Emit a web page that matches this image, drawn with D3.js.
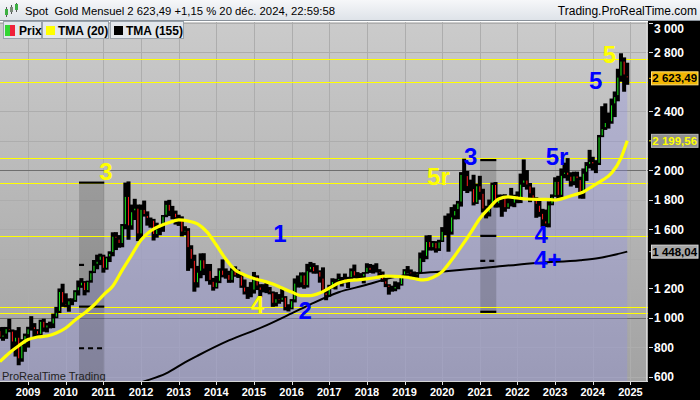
<!DOCTYPE html>
<html>
<head>
<meta charset="utf-8">
<script src="https://cdn.jsdelivr.net/npm/d3@7/dist/d3.min.js"></script>
<style>
  body { margin: 0; background: #fff; }
  svg { display: block; font-family: "Liberation Sans", Arial, sans-serif; }
</style>
</head>
<body>
<div id="chart"></div>
<script>
var w = 700;
var h = 400;

// monthly candles, first one = April 2008
var firstYear = 2008, firstMonth = 4;
var opens = [
  916, 864, 886, 929, 912, 832, 871, 718, 815,
  882, 928, 942, 916, 884, 979, 927, 954, 955, 1001, 1040, 1181,
  1097, 1081, 1118, 1113, 1180, 1213, 1244, 1181, 1248, 1308, 1359, 1386,
  1421, 1332, 1410, 1439, 1556, 1536, 1500, 1628, 1826, 1620, 1722, 1746,
  1565, 1738, 1697, 1669, 1664, 1561, 1604, 1622, 1692, 1772, 1719, 1712,
  1675, 1664, 1578, 1596, 1472, 1393, 1234, 1312, 1396, 1327, 1323, 1250,
  1202, 1244, 1326, 1284, 1296, 1250, 1327, 1282, 1287, 1211, 1171, 1182,
  1184, 1283, 1212, 1183, 1183, 1190, 1172, 1095, 1132, 1115, 1142, 1065,
  1061, 1118, 1238, 1233, 1293, 1215, 1322, 1351, 1309, 1316, 1272, 1173,
  1146, 1211, 1249, 1249, 1268, 1268, 1242, 1269, 1322, 1280, 1271, 1275,
  1303, 1345, 1318, 1325, 1315, 1299, 1253, 1224, 1202, 1192, 1215, 1222,
  1282, 1321, 1313, 1292, 1284, 1305, 1409, 1413, 1520, 1472, 1513, 1464,
  1517, 1589, 1585, 1577, 1687, 1730, 1781, 1975, 1967, 1886, 1879, 1776,
  1898, 1847, 1734, 1708, 1769, 1907, 1770, 1814, 1814, 1743, 1783, 1774,
  1829, 1796, 1909, 1937, 1897, 1837, 1807, 1766, 1711, 1660, 1633, 1768,
  1824, 1928, 1827, 1969, 1990, 1963, 1919, 1965, 1940, 1849, 1983, 2036,
  2063, 2040, 2044, 2230, 2286, 2327, 2326, 2447, 2503, 2635, 2744, 2643
];
var highs = [
  933, 934, 934, 989, 917, 912, 933, 851, 889,
  935, 1007, 960, 919, 983, 990, 961, 970, 1024, 1070, 1195, 1227,
  1162, 1128, 1128, 1183, 1249, 1265, 1245, 1248, 1315, 1388, 1424, 1431,
  1424, 1411, 1447, 1576, 1577, 1557, 1632, 1913, 1921, 1764, 1803, 1764,
  1764, 1791, 1718, 1676, 1667, 1641, 1625, 1693, 1790, 1796, 1755, 1723,
  1695, 1684, 1617, 1604, 1488, 1424, 1348, 1433, 1434, 1361, 1361, 1267,
  1280, 1332, 1392, 1331, 1315, 1332, 1345, 1323, 1292, 1256, 1206, 1238,
  1307, 1284, 1224, 1224, 1232, 1205, 1175, 1170, 1157, 1191, 1143, 1088,
  1123, 1263, 1283, 1304, 1304, 1362, 1375, 1367, 1353, 1318, 1338, 1181,
  1220, 1264, 1261, 1296, 1273, 1296, 1274, 1331, 1357, 1306, 1299, 1306,
  1366, 1361, 1356, 1366, 1326, 1310, 1266, 1224, 1214, 1243, 1237, 1284,
  1326, 1347, 1324, 1310, 1306, 1439, 1453, 1555, 1557, 1517, 1516, 1525,
  1611, 1689, 1704, 1747, 1765, 1789, 1984, 2075, 1992, 1933, 1966, 1906,
  1959, 1871, 1756, 1798, 1913, 1917, 1832, 1832, 1834, 1814, 1877, 1831,
  1853, 1974, 2070, 1998, 1910, 1880, 1814, 1808, 1735, 1730, 1786, 1833,
  1949, 1959, 2009, 2048, 2079, 1983, 1987, 1987, 1953, 2009, 2052, 2135,
  2088, 2065, 2236, 2431, 2450, 2388, 2483, 2531, 2685, 2790, 2762, 2726
];
var lows = [
  861, 847, 860, 905, 786, 740, 681, 705, 772,
  801, 916, 866, 865, 880, 908, 904, 931, 933, 1000, 1035, 1077,
  1074, 1044, 1088, 1111, 1154, 1206, 1155, 1175, 1241, 1306, 1332, 1360,
  1309, 1329, 1381, 1420, 1462, 1478, 1481, 1603, 1532, 1600, 1666, 1523,
  1538, 1689, 1628, 1614, 1527, 1546, 1563, 1586, 1685, 1693, 1671, 1635,
  1626, 1555, 1563, 1321, 1338, 1180, 1208, 1271, 1292, 1251, 1227, 1187,
  1201, 1238, 1277, 1268, 1240, 1241, 1281, 1273, 1206, 1161, 1131, 1142,
  1167, 1191, 1142, 1175, 1170, 1162, 1077, 1080, 1098, 1111, 1053, 1046,
  1060, 1107, 1208, 1209, 1200, 1208, 1311, 1302, 1302, 1241, 1171, 1122,
  1146, 1201, 1195, 1244, 1215, 1237, 1205, 1266, 1271, 1260, 1264, 1236,
  1302, 1307, 1303, 1310, 1282, 1246, 1211, 1160, 1180, 1183, 1196, 1221,
  1276, 1302, 1281, 1266, 1267, 1301, 1381, 1400, 1459, 1459, 1445, 1456,
  1517, 1563, 1451, 1567, 1670, 1671, 1757, 1863, 1849, 1860, 1765, 1775,
  1803, 1717, 1677, 1690, 1766, 1750, 1751, 1688, 1722, 1742, 1758, 1753,
  1780, 1781, 1890, 1872, 1787, 1805, 1681, 1688, 1615, 1618, 1616, 1766,
  1823, 1804, 1810, 1949, 1932, 1893, 1902, 1884, 1811, 1810, 1931, 2016,
  2002, 1984, 2039, 2228, 2277, 2286, 2319, 2364, 2471, 2604, 2536, 2583
];
var closes = [
  864, 886, 929, 912, 832, 871, 718, 815, 882,
  928, 942, 916, 884, 979, 927, 954, 955, 1001, 1040, 1181, 1097,
  1081, 1118, 1113, 1180, 1213, 1244, 1181, 1248, 1308, 1359, 1386, 1421,
  1332, 1410, 1439, 1556, 1536, 1500, 1628, 1826, 1620, 1722, 1746, 1565,
  1738, 1697, 1669, 1664, 1561, 1604, 1622, 1692, 1772, 1719, 1712, 1675,
  1664, 1578, 1596, 1472, 1393, 1234, 1312, 1396, 1327, 1323, 1250, 1202,
  1244, 1326, 1284, 1296, 1250, 1327, 1282, 1287, 1211, 1171, 1182, 1184,
  1283, 1212, 1183, 1183, 1190, 1172, 1095, 1132, 1115, 1142, 1065, 1061,
  1118, 1238, 1233, 1293, 1215, 1322, 1351, 1309, 1316, 1272, 1173, 1146,
  1211, 1249, 1249, 1268, 1268, 1242, 1269, 1322, 1280, 1271, 1275, 1303,
  1345, 1318, 1325, 1315, 1299, 1253, 1224, 1202, 1192, 1215, 1222, 1282,
  1321, 1313, 1292, 1284, 1305, 1409, 1413, 1520, 1472, 1513, 1464, 1517,
  1589, 1585, 1577, 1687, 1730, 1781, 1975, 1967, 1886, 1879, 1776, 1898,
  1847, 1734, 1708, 1769, 1907, 1770, 1814, 1814, 1743, 1783, 1774, 1829,
  1796, 1909, 1937, 1897, 1837, 1807, 1766, 1711, 1660, 1633, 1768, 1824,
  1928, 1827, 1969, 1990, 1963, 1919, 1965, 1940, 1849, 1983, 2036, 2063,
  2040, 2044, 2230, 2286, 2327, 2326, 2447, 2503, 2635, 2744, 2643, 2623.49
];

// TMA (20)
var tma20Dates = ["2008-04","2008-07","2008-10","2009-01","2009-04","2009-07","2009-10",
  "2010-01","2010-04","2010-07","2010-10","2011-01","2011-04","2011-07","2011-10",
  "2012-01","2012-04","2012-07","2012-10","2013-01","2013-04","2013-07","2013-10",
  "2014-01","2014-04","2014-07","2014-10","2015-01","2015-04","2015-07","2015-10",
  "2016-01","2016-04","2016-07","2016-10","2017-01","2017-04","2017-07","2017-10",
  "2018-01","2018-04","2018-07","2018-10","2019-01","2019-04","2019-07","2019-10",
  "2020-01","2020-04","2020-07","2020-10","2021-01","2021-04","2021-07","2021-10",
  "2022-01","2022-04","2022-07","2022-10","2023-01","2023-04","2023-07","2023-10",
  "2024-01","2024-04","2024-07","2024-10","2024-12"];
var tma20Values = [702, 761, 810, 852, 869, 876, 896,
  930, 984, 1032, 1086, 1154, 1215, 1323, 1425,
  1527, 1588, 1622, 1646, 1663, 1656, 1636, 1582,
  1493, 1398, 1324, 1290, 1266, 1249, 1229, 1201,
  1174, 1150, 1150, 1167, 1201, 1235, 1252, 1256,
  1263, 1273, 1283, 1281, 1276, 1266, 1256, 1273,
  1313, 1391, 1480, 1574, 1673, 1744, 1805, 1819,
  1812, 1805, 1803, 1803, 1798, 1812, 1832, 1853,
  1893, 1931, 1981, 2083, 2199.56];

// TMA (155)
var tma155Dates = ["2011-09","2012-01","2012-09","2013-03","2013-07","2014-05","2015-04",
  "2016-01","2016-07","2017-04","2017-12","2018-09","2019-05","2020-03","2020-09",
  "2021-06","2022-01","2022-08","2023-09","2024-03","2024-12"];
var tma155Values = [530, 561, 622, 697, 742, 846, 939,
  1029, 1091, 1173, 1218, 1272, 1300, 1316, 1328,
  1345, 1360, 1372, 1390, 1405, 1448.04];

// horizontal yellow levels
var levels = [2752, 2596, 2081, 1912, 1554, 1071, 1030];

// grey projection boxes (decimal years / prices)
var boxStart = [2010.353, 2021.012];
var boxEnd = [2011.024, 2021.438];
var boxTop = [1916, 2069];
var boxBottom = [400, 1040];
var markBox = [0, 0, 0, 0, 1, 1, 1, 1];
var markValue = [1916, 1358, 1075, 793, 2069, 1555, 1385, 1040];
var markStyle = ["solid", "stub", "solid", "dash", "solid", "solid", "dash", "solid"];

// wave counts
var waveText = ["3", "1", "4", "2", "5r", "3", "5r", "4", "4+", "5", "5"];
var waveYear = [2011.07, 2015.69, 2015.09, 2016.36, 2019.9, 2020.76, 2023.05, 2022.63, 2022.81, 2024.08, 2024.44];
var waveValue = [1995, 1573, 1091, 1047, 1956, 2097, 2097, 1568, 1398, 2612, 2788];
var waveColor = ["y", "b", "y", "b", "y", "b", "b", "b", "b", "b", "y"];

var yearTicks = [2009, 2010, 2011, 2012, 2013, 2014, 2015, 2016, 2017, 2018, 2019, 2020, 2021, 2022, 2023, 2024, 2025];
var priceGrid = [600, 800, 1000, 1200, 1400, 1600, 1800, 2000, 2200, 2400, 2600, 2800, 3000];
var priceLabels = [600, 800, 1000, 1200, 1600, 1800, 2000, 2400, 2800, 3000];

var lastPrice = 2623.49, lastTma20 = 2199.56, lastTma155 = 1448.04;

// ---------------------------------------------------------------
var fr = d3.formatLocale({decimal: ",", thousands: " ", grouping: [3], currency: ["", ""]});
var fmtInt = fr.format(",");
var fmtPrice = fr.format(",.2f");

function monthIdx(s) {
  var p = s.split("-");
  return (+p[0] - 2009) * 12 + (+p[1] - 1);
}
function yearIdx(yr) { return (yr - 2009) * 12; }

var plotL = 0, plotT = 22, plotR = 648, plotB = 382;

var x = d3.scaleLinear().domain([0, 192]).range([28.1, 630.4]);
var y = d3.scaleLinear().domain([564, 3005.5]).range([plotB, plotT]);

var bars = closes.map(function(c, i) {
  return {m: (firstYear - 2009) * 12 + (firstMonth - 1) + i,
          open: opens[i], high: highs[i], low: lows[i], close: c};
});
var tma20 = tma20Dates.map(function(d, i) { return {m: monthIdx(d), v: tma20Values[i]}; });
var tma155 = tma155Dates.map(function(d, i) { return {m: monthIdx(d), v: tma155Values[i]}; });

var svg = d3.select("#chart").append("svg")
  .attr("width", w)
  .attr("height", h);

var defs = svg.append("defs");
var bg = defs.append("linearGradient").attr("id", "bgGrad")
  .attr("x1", 0).attr("y1", 0).attr("x2", 0).attr("y2", 1);
bg.append("stop").attr("offset", "0%").attr("stop-color", "#cbcbcb");
bg.append("stop").attr("offset", "100%").attr("stop-color", "#a2a2a2");
var tg = defs.append("linearGradient").attr("id", "titleGrad")
  .attr("x1", 0).attr("y1", 0).attr("x2", 0).attr("y2", 1);
tg.append("stop").attr("offset", "0%").attr("stop-color", "#f6f7f9");
tg.append("stop").attr("offset", "100%").attr("stop-color", "#dde2e8");
defs.append("clipPath").attr("id", "plotClip")
  .append("rect").attr("x", plotL).attr("y", plotT)
  .attr("width", plotR - plotL).attr("height", plotB - plotT);

// background
svg.append("rect").attr("x", plotL).attr("y", plotT)
  .attr("width", plotR - plotL).attr("height", plotB - plotT)
  .attr("fill", "url(#bgGrad)");

var plot = svg.append("g").attr("clip-path", "url(#plotClip)");

// grid
plot.selectAll(".vgrid").data(yearTicks).enter().append("line")
  .attr("x1", function(d) { return Math.round(x(yearIdx(d))) + 0.5; })
  .attr("x2", function(d) { return Math.round(x(yearIdx(d))) + 0.5; })
  .attr("y1", plotT).attr("y2", plotB)
  .attr("stroke", "#adadad");
plot.selectAll(".hgrid").data(priceGrid).enter().append("line")
  .attr("x1", plotL).attr("x2", plotR)
  .attr("y1", function(d) { return Math.round(y(d)) + 0.5; })
  .attr("y2", function(d) { return Math.round(y(d)) + 0.5; })
  .attr("stroke", function(d) { return (d === 1000 || d === 2000) ? "#6e6e6e" : "#adadad"; });

// area under the price
var area = d3.area()
  .x(function(d) { return x(d.m); })
  .y0(plotB)
  .y1(function(d) { return y(d.close); });
plot.append("path").datum(bars)
  .attr("d", area)
  .attr("fill", "rgba(140,140,235,0.30)");

// grey boxes
plot.selectAll(".box").data(boxStart).enter().append("rect")
  .attr("x", function(d) { return x(yearIdx(d)); })
  .attr("width", function(d, i) { return x(yearIdx(boxEnd[i])) - x(yearIdx(d)); })
  .attr("y", function(d, i) { return y(boxTop[i]); })
  .attr("height", function(d, i) { return y(boxBottom[i]) - y(boxTop[i]); })
  .attr("fill", "rgba(0,0,0,0.16)");

// yellow levels (under the candles)
plot.selectAll(".level").data(levels).enter().append("line")
  .attr("x1", plotL).attr("x2", plotR)
  .attr("y1", function(d) { return Math.round(y(d)) + 0.5; })
  .attr("y2", function(d) { return Math.round(y(d)) + 0.5; })
  .attr("stroke", "#ffff00")
  .attr("stroke-width", 1.2);

// candles
plot.selectAll(".wick").data(bars).enter().append("rect")
  .attr("x", function(d) { return x(d.m) - 2; })
  .attr("width", 4)
  .attr("y", function(d) { return y(d.high) - 0.5; })
  .attr("height", function(d) { return y(d.low) - y(d.high) + 1; })
  .attr("fill", "#000");
plot.selectAll(".body").data(bars).enter().append("rect")
  .attr("x", function(d) { return x(d.m) - 0.5; })
  .attr("width", 1)
  .attr("y", function(d) { return y(Math.max(d.open, d.close)) + 1; })
  .attr("height", function(d) { return Math.max(0, Math.abs(y(d.open) - y(d.close)) - 2); })
  .attr("fill", function(d) { return d.close >= d.open ? "#19e619" : "#ff1a1a"; });

// box marks
plot.selectAll(".mark").data(markValue).enter().append("line")
  .attr("x1", function(d, i) { return x(yearIdx(boxStart[markBox[i]])); })
  .attr("x2", function(d, i) {
    var x0 = x(yearIdx(boxStart[markBox[i]]));
    return markStyle[i] === "stub" ? x0 + 5 : x(yearIdx(boxEnd[markBox[i]]));
  })
  .attr("y1", function(d) { return y(d); })
  .attr("y2", function(d) { return y(d); })
  .attr("stroke", "#000")
  .attr("stroke-width", 2.2)
  .attr("stroke-dasharray", function(d, i) { return markStyle[i] === "dash" ? "5,4" : null; });

// moving averages
var line = d3.line()
  .x(function(d) { return x(d.m); })
  .y(function(d) { return y(d.v); })
  .curve(d3.curveMonotoneX);
plot.append("path").datum(tma155)
  .attr("d", line)
  .attr("fill", "none")
  .attr("stroke", "#000")
  .attr("stroke-width", 2);
plot.append("path").datum(tma20)
  .attr("d", line)
  .attr("fill", "none")
  .attr("stroke", "#ffff00")
  .attr("stroke-width", 3.2);

// wave labels
plot.selectAll(".wave").data(waveText).enter().append("text")
  .attr("x", function(d, i) { return x(yearIdx(waveYear[i])); })
  .attr("y", function(d, i) { return y(waveValue[i]); })
  .attr("dy", "0.36em")
  .attr("text-anchor", "middle")
  .style("font-size", "24px")
  .style("font-weight", "bold")
  .attr("fill", function(d, i) { return waveColor[i] === "y" ? "#ffff00" : "#0000ff"; })
  .text(function(d) { return d; });

plot.append("text")
  .attr("x", 2).attr("y", 380)
  .style("font-size", "11px")
  .attr("fill", "#222")
  .text("ProRealTime Trading");

// right axis
svg.append("rect").attr("x", plotR).attr("y", plotT - 1)
  .attr("width", w - plotR).attr("height", h - plotT + 1).attr("fill", "#000");
svg.append("line").attr("x1", plotR - 1.5).attr("x2", plotR - 1.5)
  .attr("y1", plotT).attr("y2", plotB).attr("stroke", "#d6d6d6");
var yAxis = svg.append("g");
yAxis.selectAll(".tk").data(priceLabels).enter().append("line")
  .attr("x1", plotR + 1).attr("x2", plotR + 5)
  .attr("y1", function(d) { return Math.round(y(d)) + 0.5; })
  .attr("y2", function(d) { return Math.round(y(d)) + 0.5; })
  .attr("stroke", "#e0e0e0");
yAxis.selectAll(".lb").data(priceLabels).enter().append("text")
  .attr("x", 654)
  .attr("y", function(d) { return Math.max(29, y(d)); })
  .attr("dy", "0.36em")
  .style("font-size", "12px")
  .style("font-weight", "bold")
  .attr("fill", "#fff")
  .text(function(d) { return fmtInt(d); });

// value tags
var tags = [
  {v: lastPrice, bg: "#f2b705", stroke: "#ffe07a", fg: "#000"},
  {v: lastTma20, bg: "#8f8f8f", stroke: "#b8b8b8", fg: "#ffff00"},
  {v: lastTma155, bg: "#a6a6a6", stroke: "#d8d8d8", fg: "#000"}
];
var tag = svg.selectAll(".tag").data(tags).enter().append("g");
tag.append("line")
  .attr("x1", plotR + 1).attr("x2", plotR + 5)
  .attr("y1", function(d) { return y(d.v); })
  .attr("y2", function(d) { return y(d.v); })
  .attr("stroke", function(d) { return d.fg === "#000" ? d.bg : d.fg; });
tag.append("rect")
  .attr("x", 651.5).attr("width", 46.5)
  .attr("y", function(d) { return y(d.v) - 6.5; })
  .attr("height", 13)
  .attr("fill", function(d) { return d.bg; })
  .attr("stroke", function(d) { return d.stroke; });
tag.append("text")
  .attr("x", 674.7)
  .attr("y", function(d) { return y(d.v); })
  .attr("dy", "0.36em")
  .attr("text-anchor", "middle")
  .style("font-size", "11.5px")
  .style("font-weight", "bold")
  .attr("fill", function(d) { return d.fg; })
  .text(function(d) { return fmtPrice(d.v); });

// bottom axis
svg.append("rect").attr("x", 0).attr("y", plotB)
  .attr("width", w).attr("height", h - plotB).attr("fill", "#000");
svg.append("line").attr("x1", 0).attr("x2", plotR)
  .attr("y1", plotB - 0.5).attr("y2", plotB - 0.5).attr("stroke", "#d6d6d6");
var xAxis = svg.append("g");
xAxis.selectAll(".tk").data(yearTicks).enter().append("line")
  .attr("x1", function(d) { return Math.round(x(yearIdx(d))) + 0.5; })
  .attr("x2", function(d) { return Math.round(x(yearIdx(d))) + 0.5; })
  .attr("y1", plotB).attr("y2", plotB + 3)
  .attr("stroke", "#e0e0e0");
xAxis.selectAll(".lb").data(yearTicks).enter().append("text")
  .attr("x", function(d) { return x(yearIdx(d)); })
  .attr("y", 396)
  .attr("text-anchor", "middle")
  .style("font-size", "11px")
  .style("font-weight", "bold")
  .attr("fill", "#fff")
  .text(function(d) { return d; });

// title bar
svg.append("rect").attr("x", 0).attr("y", 0).attr("width", w).attr("height", 21)
  .attr("fill", "url(#titleGrad)");
svg.append("line").attr("x1", 0).attr("x2", w).attr("y1", 20.5).attr("y2", 20.5)
  .attr("stroke", "#8a929b");
var icon = svg.append("g");
icon.append("line").attr("x1", 6.5).attr("x2", 6.5).attr("y1", 7).attr("y2", 17).attr("stroke", "#555");
icon.append("rect").attr("x", 5).attr("y", 9).attr("width", 3).attr("height", 6).attr("fill", "#3cb043");
icon.append("line").attr("x1", 11.5).attr("x2", 11.5).attr("y1", 5).attr("y2", 14).attr("stroke", "#555");
icon.append("rect").attr("x", 10).attr("y", 7).attr("width", 3).attr("height", 5).attr("fill", "#7a8a7a");
icon.append("line").attr("x1", 16.5).attr("x2", 16.5).attr("y1", 3).attr("y2", 12).attr("stroke", "#555");
icon.append("rect").attr("x", 15).attr("y", 4).attr("width", 3).attr("height", 6).attr("fill", "#3cb043");
svg.append("text")
  .attr("x", 25).attr("y", 15)
  .style("font-size", "11.3px")
  .style("white-space", "pre")
  .attr("fill", "#000")
  .text("Spot  Gold Mensuel 2 623,49 +1,15 % 20 déc. 2024, 22:59:58");
svg.append("text")
  .attr("x", 697).attr("y", 15)
  .attr("text-anchor", "end")
  .style("font-size", "12px")
  .attr("fill", "#000")
  .text("Trading.ProRealTime.com");

// legend
var legend = [
  {label: "Prix", x: 3, w: 38},
  {label: "TMA (20)", x: 42, w: 66},
  {label: "TMA (155)", x: 110, w: 73}
];
var lg = svg.selectAll(".lg").data(legend).enter().append("g");
lg.append("rect")
  .attr("x", function(d) { return d.x + 0.5; }).attr("y", 21.5)
  .attr("width", function(d) { return d.w; }).attr("height", 17)
  .attr("fill", "#e3e7ec").attr("stroke", "#9aa2ab");
lg.append("text")
  .attr("x", function(d) { return d.x + 16; }).attr("y", 34.5)
  .style("font-size", "12px")
  .style("font-weight", "bold")
  .attr("fill", "#000")
  .text(function(d) { return d.label; });
svg.append("rect").attr("x", 5).attr("y", 25).attr("width", 5).attr("height", 11).attr("fill", "#33d633");
svg.append("rect").attr("x", 10).attr("y", 25).attr("width", 5).attr("height", 11).attr("fill", "#f0203a");
svg.append("rect").attr("x", 46).attr("y", 26).attr("width", 9).attr("height", 9).attr("fill", "#ffff00");
svg.append("rect").attr("x", 114).attr("y", 26).attr("width", 9).attr("height", 9).attr("fill", "#000");
</script>
</body>
</html>
